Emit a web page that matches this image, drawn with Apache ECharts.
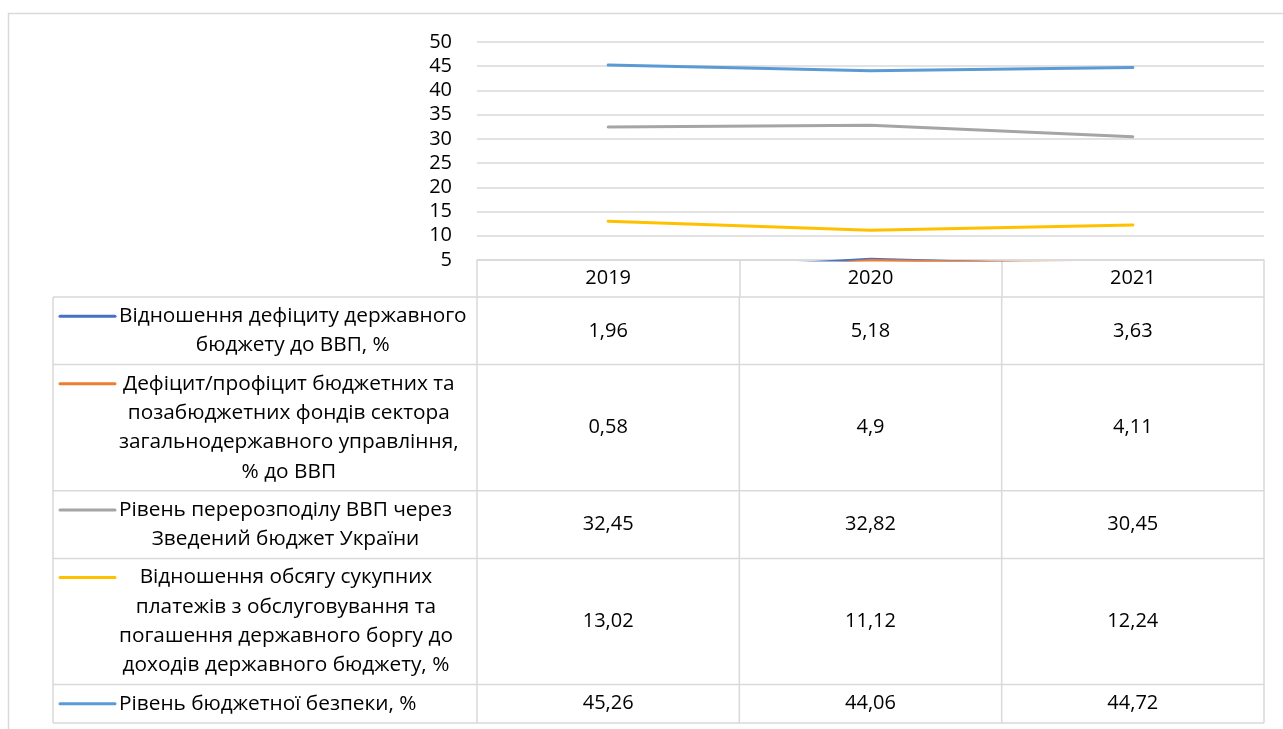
<!DOCTYPE html>
<html>
<head>
<meta charset="utf-8">
<script src="https://cdn.jsdelivr.net/npm/echarts@6/dist/echarts.min.js"></script>
<style>
html,body{margin:0;padding:0;background:#fff;}
#chart{width:1283px;height:729px;}
</style>
</head>
<body>
<div id="chart"></div>
<script>
// ---- data ----
const categories = ['2019', '2020', '2021'];
const seriesNames = [
  'Відношення дефіциту державного\nбюджету до ВВП, %',
  'Дефіцит/профіцит бюджетних та\nпозабюджетних фондів сектора\nзагальнодержавного управління,\n% до ВВП',
  'Рівень перерозподілу ВВП через\nЗведений бюджет України',
  'Відношення обсягу сукупних\nплатежів з обслуговування та\nпогашення державного боргу до\nдоходів державного бюджету, %',
  'Рівень бюджетної безпеки, %'
];
const deficitToGdp = [1.96, 5.18, 3.63];
const sectorDeficit = [0.58, 4.9, 4.11];
const gdpRedistribution = [32.45, 32.82, 30.45];
const debtPaymentsRatio = [13.02, 11.12, 12.24];
const budgetSecurity = [45.26, 44.06, 44.72];
const seriesColors = ['#4472C4', '#ED7D31', '#A5A5A5', '#FFC000', '#5B9BD5'];
const yMin = 5, yMax = 50, yStep = 5;

const allSeries = [deficitToGdp, sectorDeficit, gdpRedistribution, debtPaymentsRatio, budgetSecurity];

// ---- style ----
const FONT = '"Open Sans", "Noto Sans", sans-serif';
const FS = 20;
const FS_LEG = 20.8;
const TXT = '#000';
const GRID = '#d9d9d9';

const chart = echarts.init(document.getElementById('chart'), null, {renderer: 'canvas'});

chart.setOption({
  animation: false,
  backgroundColor: '#fff',
  grid: {left: 477, right: 19, top: 42, bottom: 469, containLabel: false},
  xAxis: {
    type: 'category',
    data: categories,
    boundaryGap: true,
    axisLine: {show: true, lineStyle: {color: GRID, width: 1.5}},
    axisTick: {show: true, length: 37, alignWithLabel: false, lineStyle: {color: GRID, width: 1.5}},
    axisLabel: {fontFamily: FONT, fontSize: FS, color: TXT, margin: 18, verticalAlign: 'middle'},
    splitLine: {show: false}
  },
  yAxis: {
    type: 'value',
    min: yMin, max: yMax, interval: yStep,
    axisLine: {show: false},
    axisTick: {show: false},
    axisLabel: {fontFamily: FONT, fontSize: FS, color: TXT, margin: 25},
    splitLine: {show: true, lineStyle: {color: GRID, width: 1.5}}
  },
  series: allSeries.map((d, i) => ({
    type: 'line',
    name: seriesNames[i],
    data: d,
    showSymbol: false,
    symbol: 'none',
    clip: true,
    lineStyle: {color: seriesColors[i], width: 3, cap: 'round'},
    z: 3
  }))
});

// ---- data table below the plot (built from the axis scale) ----
function buildTable() {
  const ctx = document.createElement('canvas').getContext('2d');
  ctx.font = FS_LEG + 'px ' + FONT;
  const baseY = chart.convertToPixel({yAxisIndex: 0}, yMin);
  const xs = categories.map((c) => chart.convertToPixel({xAxisIndex: 0}, c));
  const step = xs.length > 1 ? xs[1] - xs[0] : 262;
  const colEdges = [xs[0] - step / 2].concat(xs.map((x) => x + step / 2));
  const tableLeft = 53, keyX0 = 60, keyX1 = 115, textX = 119;
  const headerH = 37, lineH = 29.3, rowPad = 9;
  const right = colEdges[colEdges.length - 1];
  const els = [];
  // outer chart border
  els.push({type: 'rect', shape: {x: 8.5, y: 13.5, width: 1400, height: 900},
    style: {fill: 'none', stroke: GRID, lineWidth: 1.5}, silent: true});
  let top = baseY + headerH;
  const hLines = [top];
  const rows = [];
  seriesNames.forEach((name, i) => {
    const lines = name.split('\n');
    const h = lines.length * lineH + rowPad;
    rows.push({top, h, lines});
    top += h;
    hLines.push(top);
  });
  const bottom = top;
  hLines.forEach((y) => els.push({type: 'line', shape: {x1: tableLeft, y1: y, x2: right, y2: y},
    style: {stroke: GRID, lineWidth: 1.5}, silent: true}));
  [tableLeft].concat(colEdges).forEach((x) => els.push({type: 'line',
    shape: {x1: x, y1: baseY + headerH, x2: x, y2: bottom}, style: {stroke: GRID, lineWidth: 1.5}, silent: true}));
  rows.forEach((r, i) => {
    const firstY = r.top + rowPad / 2 + lineH / 2;
    els.push({type: 'line', shape: {x1: keyX0, y1: firstY, x2: keyX1, y2: firstY},
      style: {stroke: seriesColors[i], lineWidth: 3, lineCap: 'round'}, silent: true});
    const blockW = Math.max.apply(null, r.lines.map((l) => ctx.measureText(l).width));
    const cx = textX + blockW / 2;
    r.lines.forEach((l, k) => {
      els.push({type: 'text', x: cx, y: r.top + rowPad / 2 + lineH * (k + 0.5),
        style: {text: l, fill: TXT, font: FS_LEG + 'px ' + FONT, textAlign: 'center', textVerticalAlign: 'middle'}, silent: true});
    });
    allSeries[i].forEach((v, j) => {
      els.push({type: 'text', x: xs[j], y: r.top + r.h / 2,
        style: {text: String(v).replace('.', ','), fill: TXT, font: FS + 'px ' + FONT, textAlign: 'center', textVerticalAlign: 'middle'}, silent: true});
    });
  });
  chart.setOption({graphic: {elements: els}});
}
buildTable();
</script>
</body>
</html>
